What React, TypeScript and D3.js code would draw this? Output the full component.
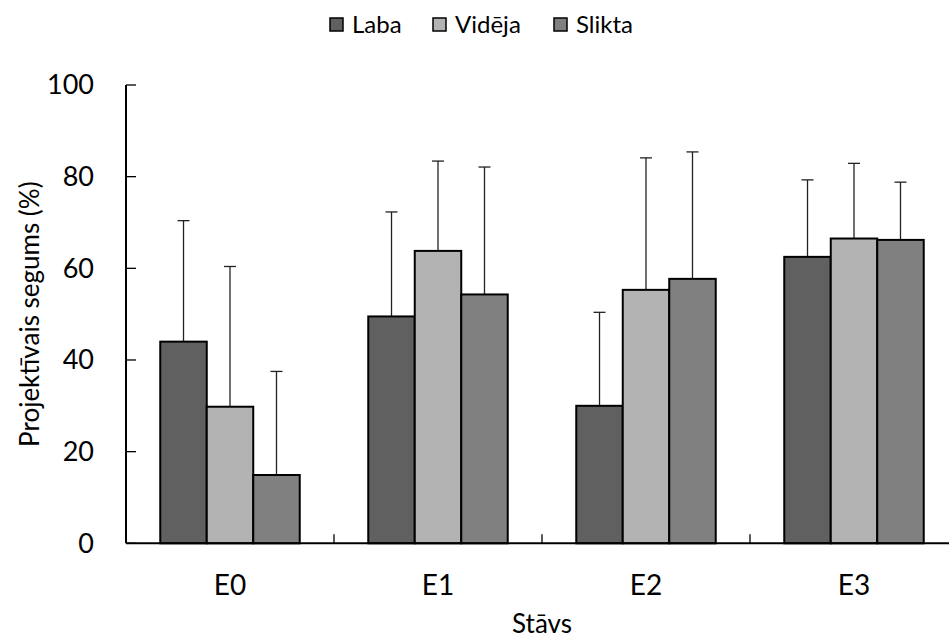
import React from "react";
import * as d3 from "d3";

const categories = ["E0", "E1", "E2", "E3"];
const seriesNames = ["Laba", "Vidēja", "Slikta"];
const seriesColors = ["#606060", "#b3b3b3", "#808080"];
// mean values per series, by category
const laba = [44.0, 49.5, 30.0, 62.5];
const videja = [29.8, 63.8, 55.3, 66.5];
const slikta = [14.9, 54.3, 57.7, 66.2];
// upper ends of the error bars
const labaErr = [70.4, 72.3, 50.4, 79.3];
const videjaErr = [60.4, 83.4, 84.1, 82.9];
const sliktaErr = [37.5, 82.1, 85.4, 78.8];
const yTicks = [0, 20, 40, 60, 80, 100];

const values = [laba, videja, slikta];
const errs = [labaErr, videjaErr, sliktaErr];

const W = 949, H = 639;
const font = "Lato, 'Open Sans', sans-serif";

export default function App() {
  const x = d3.scaleBand().domain(categories).range([126, 958]);
  const xs = d3.scaleBand().domain(seriesNames).range([0, x.bandwidth()])
    .paddingOuter(0.737).paddingInner(0);
  const y = d3.scaleLinear().domain([0, 100]).range([543.3, 85]);
  const bw = xs.bandwidth();

  const legendX = [330, 433, 554];

  return (
    <svg width={W} height={H} style={{ position: "absolute", left: 0, top: 0, background: "#fff" }}
      fontFamily={font}>
      {/* legend */}
      {seriesNames.map((s, i) => (
        <g key={s}>
          <rect x={legendX[i]} y={18} width={13} height={13} fill={seriesColors[i]} stroke="#000" strokeWidth={1.5} />
          <text x={legendX[i] + 22} y={33} fontSize={24} fill="#000">{s}</text>
        </g>
      ))}

      {/* bars */}
      {categories.map((c, ci) => (
        <g key={c} transform={`translate(${x(c)},0)`}>
          {seriesNames.map((s, si) => {
            const v = values[si][ci];
            const e = errs[si][ci];
            const cx = xs(s)! + bw / 2;
            return (
              <g key={s}>
                <line x1={cx} x2={cx} y1={y(v)} y2={y(e)} stroke="#222" strokeWidth={1.3} />
                <line x1={cx - 6} x2={cx + 6} y1={y(e)} y2={y(e)} stroke="#222" strokeWidth={1.3} />
                <rect x={xs(s)} y={y(v)} width={bw} height={y(0) - y(v)}
                  fill={seriesColors[si]} stroke="#000" strokeWidth={2} />
              </g>
            );
          })}
        </g>
      ))}

      {/* y axis */}
      <line x1={126} x2={126} y1={y(100)} y2={y(0)} stroke="#000" strokeWidth={2} />
      {yTicks.map(t => (
        <g key={t}>
          <line x1={126} x2={136} y1={y(t)} y2={y(t)} stroke="#000" strokeWidth={1.3} />
          <text x={94} y={y(t)} dy="0.35em" textAnchor="end" fontSize={27} fill="#000">{t}</text>
        </g>
      ))}
      <text transform={`translate(30,${y(50)}) rotate(-90)`} textAnchor="middle" dy="0.35em"
        fontSize={26} fill="#000">Projektīvais segums (%)</text>

      {/* x axis */}
      <line x1={126} x2={958} y1={y(0)} y2={y(0)} stroke="#000" strokeWidth={2} />
      {categories.slice(1).map(c => (
        <line key={c} x1={x(c)} x2={x(c)} y1={y(0)} y2={y(0) - 9} stroke="#000" strokeWidth={1.3} />
      ))}
      {categories.map(c => (
        <text key={c} x={x(c)! + x.bandwidth() / 2} y={595} textAnchor="middle" fontSize={28} fill="#000">{c}</text>
      ))}
      <text x={542} y={633} textAnchor="middle" fontSize={26} fill="#000">Stāvs</text>
    </svg>
  );
}
